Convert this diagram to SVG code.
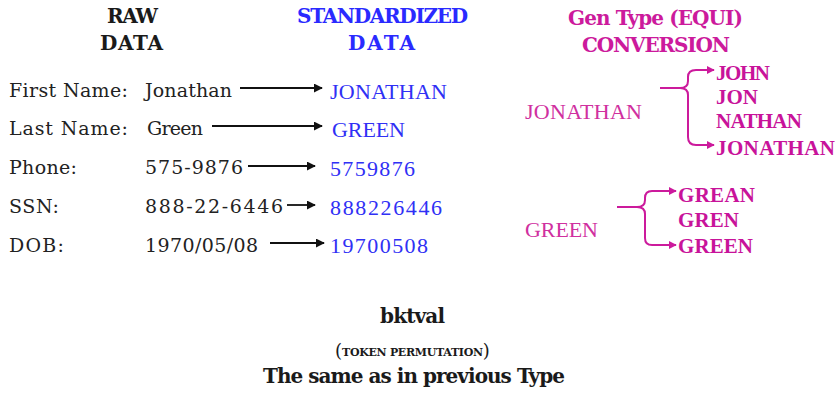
<svg xmlns="http://www.w3.org/2000/svg" width="837" height="393" viewBox="0 0 837 393">
  <style>
    .head { font-family: "DejaVu Serif", "Liberation Serif", serif; font-weight: bold; font-size: 20px; }
    .lbl { font-family: "DejaVu Serif", "Liberation Serif", serif; font-size: 19px; fill: #222; }
    .std { font-family: "Liberation Serif", "DejaVu Serif", serif; font-size: 22px; fill: #3030f5; }
    .gen { font-family: "Liberation Serif", "DejaVu Serif", serif; font-size: 22px; fill: #d0309f; }
    .var { font-family: "Liberation Serif", "DejaVu Serif", serif; font-weight: bold; font-size: 21px; fill: #c8139a; }
    .blk { fill: #1a1a1a; }
    .blue { fill: #2a2aff; }
    .mag { fill: #cc1a9c; }
    .arr { stroke: #111; stroke-width: 1.8; fill: none; marker-end: url(#ah); }
    .br { stroke: #cc1a9c; stroke-width: 2; fill: none; }
    .bra { stroke: #cc1a9c; stroke-width: 2; fill: none; marker-end: url(#ahm); }
  </style>
  <defs>
    <marker id="ah" viewBox="0 0 10 10" refX="9" refY="5" markerWidth="5" markerHeight="5" orient="auto" markerUnits="strokeWidth">
      <path d="M0,0 L10,5 L0,10 Z" fill="#111"/>
    </marker>
    <marker id="ahm" viewBox="0 0 10 10" refX="9" refY="5" markerWidth="4" markerHeight="4" orient="auto" markerUnits="strokeWidth">
      <path d="M0,0 L10,5 L0,10 Z" fill="#cc1a9c"/>
    </marker>
  </defs>
  <rect width="837" height="393" fill="#ffffff"/>

  <!-- column headings -->
  <g id="head-raw" class="head blk">
    <text x="107" y="23" textLength="51">RAW</text>
    <text x="100" y="50" textLength="63">DATA</text>
  </g>
  <g id="head-std" class="head blue">
    <text x="297" y="23" textLength="171">STANDARDIZED</text>
    <text x="348" y="50" textLength="67">DATA</text>
  </g>
  <g id="head-gen" class="head mag">
    <text x="568" y="25" textLength="175">Gen Type (EQUI)</text>
    <text x="582" y="52" textLength="148">CONVERSION</text>
  </g>

  <!-- raw field labels and values -->
  <g id="raw-first">
    <text class="lbl" x="9" y="97" textLength="119">First Name:</text>
    <text class="lbl" x="145" y="97" textLength="87">Jonathan</text>
  </g>
  <g id="raw-last">
    <text class="lbl" x="9" y="135" textLength="119">Last Name:</text>
    <text class="lbl" x="147" y="135" textLength="56">Green</text>
  </g>
  <g id="raw-phone">
    <text class="lbl" x="9" y="174" textLength="68">Phone:</text>
    <text class="lbl" x="145" y="174" textLength="98">575-9876</text>
  </g>
  <g id="raw-ssn">
    <text class="lbl" x="9" y="213" textLength="50">SSN:</text>
    <text class="lbl" x="145" y="213" textLength="138">888-22-6446</text>
  </g>
  <g id="raw-dob">
    <text class="lbl" x="9" y="252" textLength="55">DOB:</text>
    <text class="lbl" x="145" y="252" textLength="113">1970/05/08</text>
  </g>

  <!-- standardized values -->
  <g id="std-first"><text class="std" x="330" y="99" textLength="117">JONATHAN</text></g>
  <g id="std-last"><text class="std" x="332" y="137" textLength="73">GREEN</text></g>
  <g id="std-phone"><text class="std" x="330" y="176" textLength="85">5759876</text></g>
  <g id="std-ssn"><text class="std" x="330" y="215" textLength="112">888226446</text></g>
  <g id="std-dob"><text class="std" x="330" y="253" textLength="98">19700508</text></g>

  <!-- equivalence source names -->
  <g id="gen-jonathan"><text class="gen" x="525" y="119" textLength="117">JONATHAN</text></g>
  <g id="gen-green"><text class="gen" x="525" y="237" textLength="73">GREEN</text></g>

  <!-- generated variants -->
  <g id="var-jonathan" class="var">
    <text x="716" y="80" textLength="54">JOHN</text>
    <text x="716" y="104" textLength="42">JON</text>
    <text x="716" y="128" textLength="86">NATHAN</text>
    <text x="716" y="155" textLength="119">JONATHAN</text>
  </g>
  <g id="var-green" class="var">
    <text x="678" y="202" textLength="77">GREAN</text>
    <text x="678" y="227" textLength="61">GREN</text>
    <text x="678" y="253" textLength="75">GREEN</text>
  </g>

  <!-- connectors -->
  <g id="connectors">
    <line class="arr" x1="240" y1="88" x2="322" y2="88"/>
    <line class="arr" x1="212" y1="126" x2="322" y2="126"/>
    <line class="arr" x1="248" y1="166" x2="315" y2="166"/>
    <line class="arr" x1="287" y1="205" x2="315" y2="205"/>
    <line class="arr" x1="270" y1="243" x2="324" y2="243"/>

    <path class="br" d="M660,88 L680,88"/>
    <path class="bra" d="M680,88 Q688,88 688,81 L688,77 Q688,70 696,70 L714,70"/>
    <path class="bra" d="M680,88 Q688,88 688,95 L688,137 Q688,145 696,145 L714,145"/>

    <path class="br" d="M617,207 L637,207"/>
    <path class="bra" d="M637,207 Q645,207 645,200 L645,198 Q645,191 652,191 L676,191"/>
    <path class="bra" d="M637,207 Q645,207 645,214 L645,238 Q645,245 652,245 L676,245"/>
  </g>

  <!-- footer caption -->
  <g id="caption" class="blk">
    <text class="head" x="380" y="323" font-size="19" textLength="65">bktval</text>
    <text x="335" y="357" font-family="DejaVu Serif, Liberation Serif, serif" font-size="18"><tspan>(</tspan><tspan font-size="11" font-weight="bold" dy="-1" textLength="141">TOKEN PERMUTATION</tspan><tspan dy="1">)</tspan></text>
    <text class="head" x="263" y="383" textLength="302">The same as in previous Type</text>
  </g>
</svg>
